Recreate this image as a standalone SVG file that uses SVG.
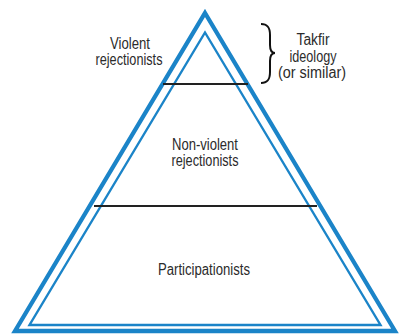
<svg xmlns="http://www.w3.org/2000/svg" width="399" height="335" viewBox="0 0 399 335">
<style>
.outer{fill:none;stroke:#1b84c8;stroke-width:4.3;stroke-linejoin:miter;stroke-miterlimit:10}
.inner{fill:none;stroke:#1b84c8;stroke-width:2.4;stroke-linejoin:miter;stroke-miterlimit:10}
.div{stroke:#222;stroke-width:2;fill:none}
.brace{stroke:#111;stroke-width:2;fill:none}
.lbl{font-family:"Liberation Sans",Arial,sans-serif;font-size:16px;fill:#2b2b2b;text-anchor:middle}
</style>
<rect width="399" height="335" fill="#fff"/>
<g id="pyramid">
<polygon class="outer" points="205,13 395,331 15,331"/>
<polygon class="inner" points="205,32.5 380.5,325 29.5,325"/>
</g>
<g id="connectors">
<line class="div" x1="163" y1="84" x2="248" y2="84"/>
<line class="div" x1="94" y1="206" x2="317" y2="206"/>
<path class="brace" d="M261,24 C268,24 270,28 270,35 L270,45 C270,50 271,53 275,53 C271,53 270,56 270,61 L270,72 C270,79 268,83 261,83"/>
</g>
<g id="violent">
<text class="lbl" x="130" y="49" textLength="40" lengthAdjust="spacingAndGlyphs">Violent</text>
<text class="lbl" x="129" y="65" textLength="67" lengthAdjust="spacingAndGlyphs">rejectionists</text>
</g>
<g id="nonviolent">
<text class="lbl" x="205" y="150" textLength="66" lengthAdjust="spacingAndGlyphs">Non-violent</text>
<text class="lbl" x="205" y="166" textLength="67" lengthAdjust="spacingAndGlyphs">rejectionists</text>
</g>
<g id="participationists">
<text class="lbl" x="204" y="275" textLength="92" lengthAdjust="spacingAndGlyphs">Participationists</text>
</g>
<g id="takfir">
<text class="lbl" x="313" y="45" textLength="33" lengthAdjust="spacingAndGlyphs">Takfir</text>
<text class="lbl" x="313" y="62" textLength="47" lengthAdjust="spacingAndGlyphs">ideology</text>
<text class="lbl" x="312" y="78" textLength="68" lengthAdjust="spacingAndGlyphs">(or similar)</text>
</g>
</svg>
